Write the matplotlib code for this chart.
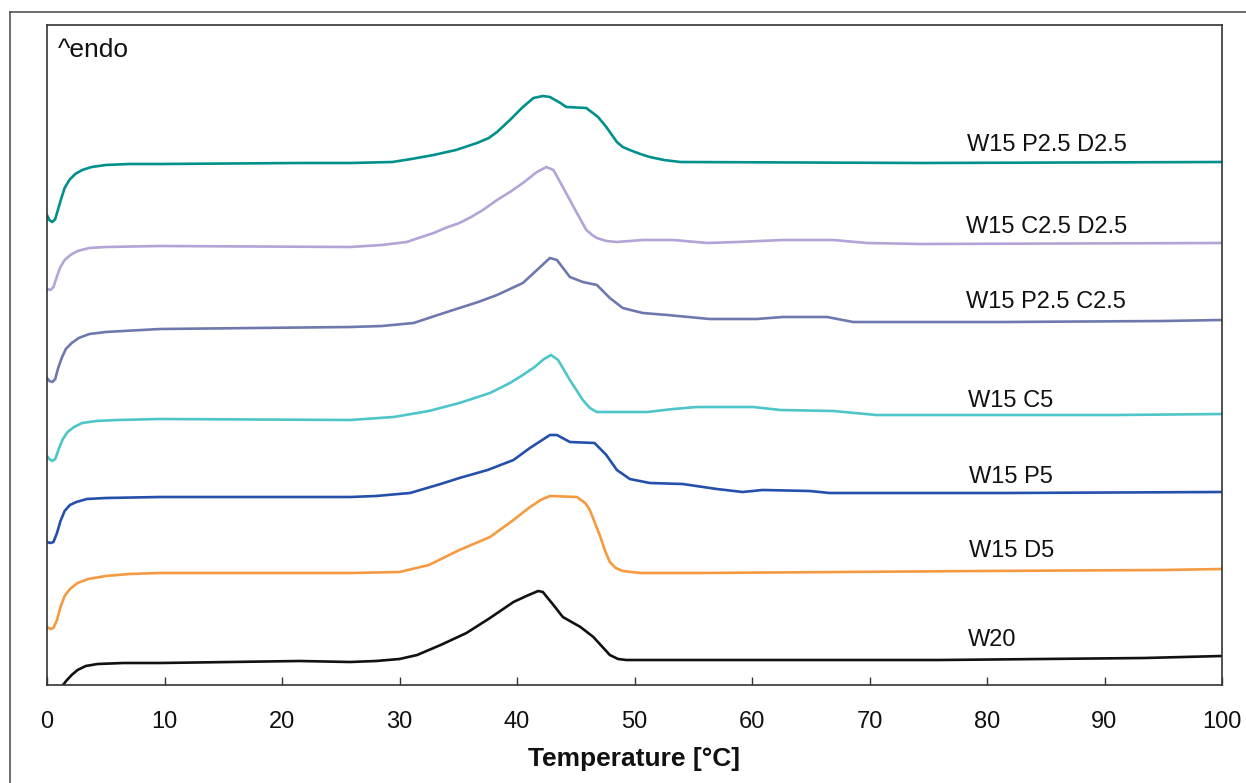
import matplotlib
matplotlib.use("Agg")
import matplotlib.pyplot as plt
from matplotlib.lines import Line2D

plt.rcParams['font.family'] = ['Liberation Sans', 'DejaVu Sans']

# ---- data (temperature in °C, heat flow in arbitrary offset units) ----
t_pd = [0.0, 0.2, 0.45, 0.7, 0.95, 1.2, 1.5, 1.9, 2.4, 3.0, 3.8, 5.0, 7.0, 9.62, 21.5, 25.8, 29.4, 31.0,
        32.9, 34.8, 36.6, 37.6, 38.3, 39.4, 40.5, 41.4, 42.2, 42.8, 43.7, 44.2, 45.9, 46.9, 47.6, 48.5,
        49.0, 49.6, 50.5, 51.3, 52.5, 53.9, 74.5, 100]
y_pd = [470, 465, 463, 466, 476, 486, 497, 505, 511, 515, 518, 520, 521, 521, 522, 522, 523, 526,
        530, 535, 542, 547, 553, 565, 578, 587, 589, 588, 582, 578, 577, 568, 558, 543,
        538, 535, 531, 528, 525, 523, 522, 523]

t_cd = [0.0, 0.3, 0.55, 0.8, 1.1, 1.5, 2.0, 2.6, 3.6, 5.0, 9.62, 25.8, 28.5, 30.6, 32.9, 33.9, 35.1,
        36.1, 37.1, 38.3, 39.4, 40.5, 41.7, 42.5, 43.1, 43.9, 45.1, 45.9, 46.4, 46.8, 47.6, 48.5, 50.7,
        53.3, 56.2, 58.7, 62.6, 66.9, 69.8, 74.3, 100]
y_cd = [396, 395, 398, 407, 417, 425, 430, 434, 437, 438, 439, 438, 440, 443, 452, 457, 462,
        468, 475, 485, 493, 502, 513, 518, 515, 498, 472, 455, 450, 447, 444, 443, 445,
        445, 442, 443, 445, 445, 442, 441, 442]

t_pc = [0.0, 0.2, 0.45, 0.7, 0.95, 1.25, 1.6, 2.1, 2.7, 3.6, 5.0, 6.5, 9.62, 25.8, 28.5, 31.2, 33.0,
        35.1, 36.7, 38.3, 40.5, 41.7, 42.8, 43.4, 44.5, 45.6, 46.8, 47.9, 49.0, 50.7, 52.8, 56.4, 60.4,
        62.6, 66.4, 68.6, 74.3, 81.5, 95, 100]
y_pc = [307, 304, 303, 306, 317, 327, 336, 342, 347, 351, 353, 354, 356, 358, 359, 362, 369,
        377, 383, 390, 402, 415, 427, 425, 408, 403, 400, 387, 377, 372, 370, 366, 366,
        368, 368, 363, 363, 363, 364, 365]

t_c5 = [0.0, 0.2, 0.45, 0.7, 1.0, 1.35, 1.75, 2.3, 3.0, 4.2, 6.0, 9.62, 25.8, 29.5, 32.5, 35.1, 37.7,
        39.4, 40.5, 41.5, 42.3, 42.9, 43.5, 44.5, 45.6, 46.2, 46.8, 48.5, 51.1, 53.3, 55.3, 60.1, 62.4,
        66.9, 70.6, 74.3, 91.1, 100]
y_c5 = [229, 226, 224, 226, 236, 246, 253, 258, 262, 264, 265, 266, 265, 268, 274, 282, 292,
        302, 310, 318, 326, 330, 325, 305, 285, 277, 273, 273, 273, 276, 278, 278, 275,
        274, 270, 270, 270, 271]

t_p5 = [0.0, 0.3, 0.55, 0.85, 1.15, 1.5, 1.95, 2.5, 3.4, 5.0, 9.62, 25.8, 28.0, 30.9, 33.5, 35.1,
        37.5, 39.7, 41.1, 42.8, 43.4, 44.5, 46.6, 47.6, 48.5, 49.6, 51.3, 54.1, 57.0, 59.2, 60.9, 64.9,
        66.6, 74.3, 81.5, 100]
y_p5 = [143, 142, 143, 152, 164, 174, 180, 183, 186, 187, 188, 188, 189, 192, 201, 207,
        215, 225, 237, 250, 250, 243, 242, 230, 215, 206, 202, 201, 196, 193, 195, 194,
        192, 192, 192, 193]

t_d5 = [0.0, 0.3, 0.55, 0.85, 1.15, 1.5, 1.95, 2.6, 3.5, 5.0, 7.0, 9.62, 25.8, 30.0, 32.5, 35.1,
        37.7, 39.7, 41.0, 42.0, 42.8, 45.1, 45.8, 46.2, 46.6, 47.1, 47.5, 47.9, 48.4, 49.0, 50.5,
        55.6, 79.4, 95, 100]
y_d5 = [58, 56, 57, 65, 78, 89, 96, 102, 106, 109, 111, 112, 112, 113, 120, 135,
        148, 165, 177, 185, 189, 188, 182, 175, 163, 148, 134, 123, 117, 114, 112,
        112, 114, 115, 116]

t_w20 = [1.36, 1.7, 2.1, 2.6, 3.3, 4.3, 6.5, 9.62, 21.5, 25.8, 28.0, 30.0, 31.5, 33.5, 35.7, 37.7,
         39.7, 40.8, 41.8, 42.2, 43.1, 43.9, 45.4, 46.5, 47.2, 47.9, 48.6, 49.3, 55.6, 76.0, 93.4, 100]
y_w20 = [0, 5, 10, 15, 19, 21, 22, 22, 24, 23, 24, 26, 30, 40, 52, 67,
         83, 89, 94, 93, 80, 68, 58, 48, 39, 30, 26, 25, 25, 25, 27, 29]

labels = ["W15 P2.5 D2.5", "W15 C2.5 D2.5", "W15 P2.5 C2.5", "W15 C5", "W15 P5", "W15 D5", "W20"]
label_x = [78.3, 78.2, 78.2, 78.4, 78.5, 78.5, 78.4]
label_y = [540, 458, 383, 284, 208, 134, 45]
colors = ["#00908C", "#B3A3D6", "#6D79AD", "#4EC5C8", "#2450AC", "#F59A40", "#111111"]

xticks = list(range(0, 101, 10))

# ---- figure ----
W, H = 1246, 783
fig = plt.figure(figsize=(W / 100, H / 100), dpi=100)
ax = fig.add_axes([47 / W, (H - 685) / H, (1222 - 47) / W, (685 - 25) / H])

series = [(t_pd, y_pd), (t_cd, y_cd), (t_pc, y_pc), (t_c5, y_c5), (t_p5, y_p5), (t_d5, y_d5), (t_w20, y_w20)]
for (t, y), c in zip(series, colors):
    ax.plot(t, y, color=c, lw=1.9, solid_joinstyle='round', solid_capstyle='round')

for lab, lx, ly in zip(labels, label_x, label_y):
    ax.text(lx, ly, lab, fontsize=17, ha='left', va='center', color='#111111')

ax.text(0.0094, 0.962, "^endo", transform=ax.transAxes, fontsize=19, ha='left', va='center', color='#111111')

ax.set_xlim(0, 100)
ax.set_ylim(0, 660)
ax.set_xticks(xticks)
ax.set_xticklabels([str(v) for v in xticks], fontsize=17)
ax.set_yticks([])
ax.tick_params(axis='x', direction='in', length=6, width=1, colors='#333333', labelcolor='#111111', pad=19)
for s in ax.spines.values():
    s.set_color('#333333')
    s.set_linewidth(1.2)
ax.set_xlabel("Temperature [°C]", fontsize=19, fontweight='bold', color='#111111', labelpad=9.5)

# outer frame (top and left edges visible)
fig.add_artist(Line2D([9.5 / W, 1.0], [(H - 12) / H, (H - 12) / H], color='#555555', lw=1.2,
                      transform=fig.transFigure))
fig.add_artist(Line2D([9.5 / W, 9.5 / W], [0, (H - 12) / H], color='#555555', lw=1.2,
                      transform=fig.transFigure))

fig.savefig("out.png", dpi=100, facecolor='white')
